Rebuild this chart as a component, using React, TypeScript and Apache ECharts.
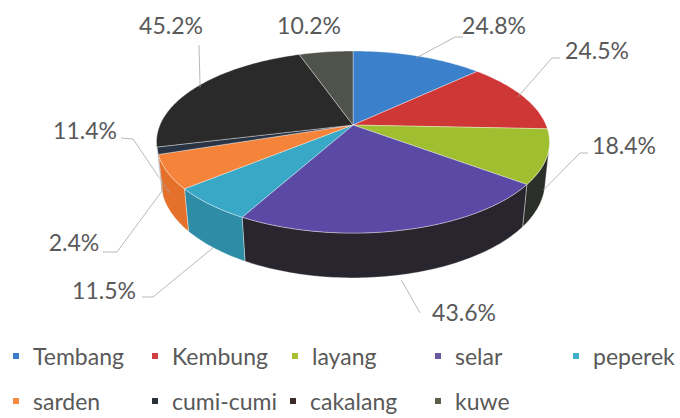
import React, { useEffect, useRef } from "react";
import * as echarts from "echarts";

// ---- data ----
const categories = ["Tembang", "Kembung", "layang", "selar", "peperek", "sarden", "cumi-cumi", "cakalang", "kuwe"];
const values = [24.8, 24.5, 18.4, 43.6, 11.5, 11.4, 2.4, 45.2, 10.2];

// ---- styles ----
const topColors = ["#3b80ca", "#cf3636", "#a0bf30", "#5a4aa6", "#38a8c6", "#f5843a", "#2a3444", "#2b2a2a", "#4f534c"];
const legendColors = ["#3b7ec8", "#d04040", "#a8c030", "#6a5aa0", "#40b0c8", "#f58a40", "#2a3038", "#3a2a28", "#5a6048"];
const wallColors = ["#2a5a90", "#902828", "#2c2e2a", "#29252f", "#2e8ca6", "#e4702c", "#1f2530", "#222", "#3a3d38"];

// ---- layout ----
const labelPos = [[494, 25], [597, 50], [624, 145], [464, 312], [104, 290], [85, 130], [74, 242], [171, 25], [309, 25]];
const anchorSpec: (number[] | null)[] = [[0.97, 0], [0.97, 0], [1, -0.19], [1, -0.26], [1, -0.232], [1, -0.116], [1, -0.232], [0.98, 0], null];
const elbows = [
  [[455, 37], [463, 37]],
  [[552, 58], [560, 58]],
  [[580, 153], [588, 153]],
  [[420, 313]],
  [[153, 297], [142, 297]],
  [[133, 139], [121, 138]],
  [[117, 252], [103, 252]],
  [[199, 45]],
  [],
];
const legendLeft = [13, 152, 292, 435, 573, 13, 152, 290, 435];
const legendTop = [344, 344, 344, 344, 344, 389, 389, 389, 389];

const CX = 353, CY = 125, F = 919, D0 = 4.76, S = 0.455, C = 0.89, H = 0.232;
const VIS_A = 103.6, VIS_B = 256.4;

function proj(thetaDeg: number, r: number, h: number): number[] {
  const t = (thetaDeg * Math.PI) / 180;
  const x = r * Math.sin(t);
  const y = r * Math.cos(t);
  const depth = D0 + y * C - h * S;
  const Y = y * S + h * C;
  return [CX + (F * x) / depth, CY - (F * Y) / depth];
}

function arc(a: number, b: number, h: number): number[][] {
  const pts: number[][] = [];
  const n = Math.max(2, Math.ceil(Math.abs(b - a) / 1));
  for (let k = 0; k <= n; k++) pts.push(proj(a + ((b - a) * k) / n, 1, h));
  return pts;
}

const total = values.reduce((s, v) => s + v, 0);
const starts: number[] = [];
{
  let acc = 0;
  for (const v of values) {
    starts.push((acc / total) * 360);
    acc += v;
  }
}

function makeRender(i: number) {
  return () => {
    const a = starts[i];
    const b = a + (values[i] / total) * 360;
    const children: any[] = [];
    // wall (front-facing part only)
    const wa = Math.max(a, VIS_A), wb = Math.min(b, VIS_B);
    if (wb > wa) {
      const pts = arc(wa, wb, 0).concat(arc(wb, wa, -H));
      children.push({
        type: "polygon",
        shape: { points: pts },
        style: { fill: wallColors[i], stroke: "rgba(255,255,255,0.45)", lineWidth: 0.8 },
      });
    }
    // top face
    const top = [[CX, CY]].concat(arc(a, b, 0));
    children.push({
      type: "polygon",
      shape: { points: top },
      style: { fill: topColors[i], stroke: "rgba(255,255,255,0.45)", lineWidth: 0.8 },
    });
    // leader line
    const spec = anchorSpec[i];
    if (spec) {
      const mid = (a + b) / 2;
      const anchor = proj(mid, spec[0], spec[1]);
      children.push({
        type: "polyline",
        shape: { points: [anchor].concat(elbows[i] as number[][]) },
        style: { stroke: "#a6a6a6", lineWidth: 0.8, fill: null },
      });
    }
    // label
    children.push({
      type: "text",
      x: labelPos[i][0],
      y: labelPos[i][1],
      style: {
        text: values[i].toFixed(1) + "%",
        fill: "#595959",
        font: "23px Lato",
        align: "center",
        verticalAlign: "middle",
      },
    });
    return { type: "group", children };
  };
}

export default function App() {
  const ref = useRef<HTMLDivElement>(null);
  useEffect(() => {
    if (!ref.current) return;
    const chart = echarts.init(ref.current, null, { renderer: "svg" });
    chart.setOption({
      animation: false,
      backgroundColor: "#ffffff",
      legend: categories.map((name, i) => ({
        data: [name],
        left: legendLeft[i],
        top: legendTop[i],
        padding: 0,
        icon: "rect",
        itemWidth: 6,
        itemHeight: 6,
        selectedMode: false,
        textStyle: { fontSize: 23, fontFamily: "Lato", color: "#595959", padding: [0, 0, 0, 9], lineHeight: 24 },
      })),
      series: categories.map((name, i) => ({
        type: "custom",
        name,
        coordinateSystem: "none",
        silent: true,
        itemStyle: { color: legendColors[i] },
        data: [values[i]],
        renderItem: makeRender(i),
      })),
    });
    return () => chart.dispose();
  }, []);
  return <div ref={ref} style={{ position: "fixed", left: 0, top: 0, width: 680, height: 418 }} />;
}
